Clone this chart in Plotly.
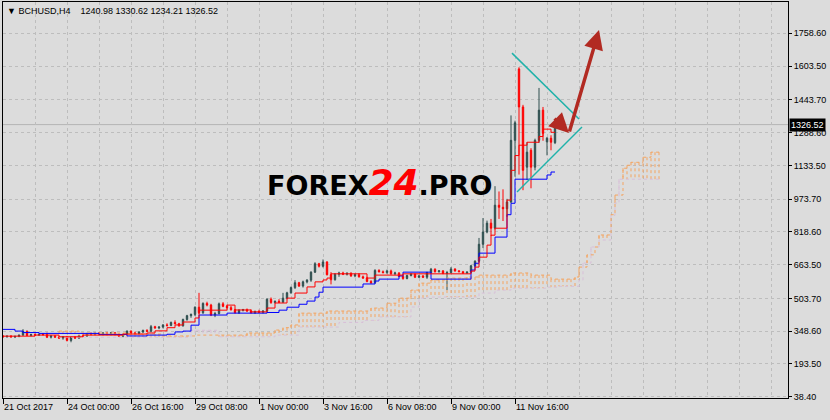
import plotly.graph_objects as go

# BCHUSD H4, bar 0 = 21 Oct 2017 08:00, one bar = 4 hours
opens = [325, 322, 325, 321, 324, 330, 348, 328, 333, 330, 334, 332, 320, 326, 320, 316, 322, 305, 320, 316,
         328, 326, 338, 334, 339, 335, 340, 337, 341, 333, 325, 334, 349, 340, 338, 345, 352, 348, 370, 364,
         368, 378, 376, 390, 384, 374, 404, 422, 428, 462, 436, 480, 472, 425, 432, 478, 466, 460, 450, 436,
         448, 450, 444, 436, 442, 438, 444, 500, 484, 490, 486, 505, 530, 555, 578, 562, 582, 590, 628, 668,
         656, 676, 616, 592, 618, 624, 618, 622, 610, 616, 606, 600, 584, 578, 636, 630, 626, 634, 620, 624,
         608, 598, 612, 618, 604, 610, 604, 626, 642, 630, 634, 622, 626, 643, 634, 630, 624, 628, 658, 680,
         760, 818, 860, 836, 945, 935, 928, 960, 1252, 1590, 1410, 1125, 1205, 1125, 1252, 1395, 1245, 1262, 1240.98]
highs = [330, 328, 330, 327, 332, 358, 352, 336, 338, 336, 340, 342, 330, 330, 325, 324, 326, 322, 326, 330,
         335, 340, 342, 341, 344, 342, 345, 343, 344, 338, 336, 352, 352, 346, 348, 356, 358, 378, 374, 372,
         382, 386, 394, 400, 388, 408, 426, 432, 466, 530, 485, 488, 478, 440, 484, 486, 474, 468, 454, 452,
         454, 456, 452, 446, 450, 448, 504, 508, 494, 500, 530, 535, 560, 590, 582, 588, 595, 632, 675, 672,
         688, 680, 628, 624, 630, 630, 628, 628, 622, 624, 612, 606, 590, 642, 642, 636, 640, 640, 630, 628,
         616, 616, 624, 622, 614, 614, 630, 648, 646, 638, 638, 634, 652, 646, 638, 634, 632, 662, 684, 790,
         884, 872, 880, 1035, 1010, 1020, 975, 1370, 1345, 1598, 1420, 1243, 1215, 1260, 1500, 1410, 1268, 1276, 1330.62]
lows = [318, 318, 320, 316, 320, 326, 325, 324, 326, 326, 328, 316, 314, 318, 312, 308, 300, 296, 312, 312,
        322, 322, 330, 330, 332, 330, 335, 333, 330, 322, 320, 330, 336, 334, 334, 340, 344, 344, 360, 358,
        362, 370, 372, 380, 370, 370, 398, 412, 420, 430, 430, 466, 420, 415, 428, 462, 456, 446, 432, 430,
        442, 440, 432, 430, 434, 432, 436, 478, 480, 482, 482, 500, 526, 548, 558, 555, 575, 582, 624, 650,
        650, 612, 570, 588, 606, 614, 612, 606, 604, 602, 596, 580, 572, 574, 626, 622, 620, 616, 614, 604,
        592, 594, 608, 600, 600, 600, 596, 620, 626, 626, 618, 543, 622, 630, 628, 620, 620, 624, 652, 676,
        742, 812, 800, 830, 880, 870, 890, 955, 1080, 1090, 1016, 1064, 1025, 1110, 1240, 1250, 1181, 1205, 1234.21]
closes = [322, 325, 321, 324, 330, 348, 328, 333, 330, 334, 332, 320, 326, 320, 316, 322, 305, 320, 316, 328,
          326, 338, 334, 339, 335, 340, 337, 341, 333, 325, 334, 349, 340, 338, 345, 352, 348, 370, 364, 368,
          378, 376, 390, 384, 374, 404, 422, 428, 462, 436, 480, 472, 425, 432, 478, 466, 460, 450, 436, 448,
          450, 444, 436, 442, 438, 444, 500, 484, 490, 486, 505, 530, 555, 578, 562, 582, 590, 628, 668, 656,
          676, 616, 592, 618, 624, 618, 622, 610, 616, 606, 600, 584, 578, 636, 630, 626, 634, 620, 624, 608,
          598, 612, 618, 604, 610, 604, 626, 642, 630, 634, 622, 626, 643, 634, 630, 624, 628, 658, 680, 760,
          818, 860, 836, 945, 935, 928, 960, 1252, 1335, 1410, 1110, 1196, 1125, 1252, 1395, 1285, 1262, 1243, 1326.52]

# Ichimoku lines, read as steps: bar where the value changes -> value
tenkan_bar = [0, 8, 14, 20, 30, 36, 38, 41, 43, 45, 48, 49, 56, 58, 62, 66, 68, 71, 73, 76, 78, 80, 81, 82,
              91, 93, 100, 117, 118, 119, 121, 122, 123, 126, 127, 128, 129, 131, 134, 135, 137, 138]
tenkan_val = [325, 330, 322, 330, 335, 340, 350, 365, 378, 392, 411, 448, 472, 449, 440, 458, 482, 505, 529, 558,
              582, 591, 600, 620, 600, 614, 620, 633, 652, 699, 756, 803, 836, 969, 1110, 1180, 1229, 1243, 1270,
              1305, 1290, 1290]
kijun_bar = [0, 3, 5, 9, 24, 31, 36, 41, 43, 45, 47, 49, 56, 66, 69, 71, 74, 76, 78, 79, 80, 90, 93, 94, 99,
             100, 107, 117, 118, 119, 123, 126, 127, 128, 136, 137, 138]
kijun_val = [357, 349, 342, 338, 333, 326, 330, 334, 345, 349, 377, 425, 434, 437, 448, 462, 476, 491, 510, 533,
             557, 572, 586, 595, 610, 628, 595, 638, 670, 718, 794, 900, 954, 1068, 1088, 1102, 1102]
span_a_bar = [14, 19, 31, 40, 48, 61, 68, 70, 72, 74, 81, 92, 96, 99, 102, 104, 107, 111, 116, 119, 127, 132,
              137, 143, 144, 146, 148, 149, 152, 153, 155, 156, 157, 160, 162, 164]
span_a_val = [349, 340, 335, 326, 330, 340, 354, 365, 378, 434, 444, 458, 481, 505, 543, 576, 591, 600, 605, 614,
              624, 614, 595, 605, 652, 710, 747, 804, 900, 993, 1120, 1134, 1148, 1172, 1196, 1196]
span_b_bar = [14, 47, 54, 68, 74, 84, 90, 94, 102, 104, 106, 119, 123, 127, 136, 139, 144, 145, 147, 149, 152,
              153, 154, 164]
span_b_val = [320, 353, 322, 330, 368, 390, 400, 416, 463, 505, 510, 529, 543, 552, 557, 561, 590, 671, 747, 780,
              897, 955, 1068, 1068]

# x axis labels (every 16 bars) and price axis labels
tick_bars = [0, 16, 32, 48, 64, 80, 96, 112, 128]
tick_text = ["21 Oct 2017", "24 Oct 00:00", "26 Oct 16:00", "29 Oct 08:00", "1 Nov 00:00",
             "3 Nov 16:00", "6 Nov 08:00", "9 Nov 00:00", "11 Nov 16:00"]
price_ticks = [38.40, 193.50, 348.60, 503.70, 663.50, 818.60, 973.70, 1133.50, 1288.60, 1443.70, 1603.50, 1758.60]

# hand drawn objects on the chart: triangle lines and arrows (bar, price)
tri_upper = [(127.25, 1665), (144.0, 1353)]
tri_lower = [(128.5, 1007), (144.75, 1315)]
arrow_small = [(137.5, 1362), (141.5, 1287)]
arrow_big = [(141.5, 1287), (149.0, 1774)]

BG = "#DCDCDC"
GRID = "#BDBDBD"
BULL = "#2F4F4F"
BEAR = "#FF0000"
FONT = "Liberation Sans"


def steps(bx, by, start, end):
    # expand step breakpoints into one value per bar
    out = []
    j = 0
    for i in range(start, end + 1):
        while j + 1 < len(bx) and bx[j + 1] <= i:
            j += 1
        out.append(by[j])
    return out


bars = list(range(len(closes)))
c0, c1 = span_a_bar[0], span_a_bar[-1]
a_full = steps(span_a_bar, span_a_val, c0, c1)
b_full = steps(span_b_bar, span_b_val, c0, c1)

# cloud hatching: vertical dotted strokes between span A and span B
up_x, up_y, dn_x, dn_y = [], [], [], []
for k, i in enumerate(range(c0, c1 + 1)):
    a, b = a_full[k], b_full[k]
    if a >= b:
        up_x += [i, i, None]
        up_y += [a, b, None]
    else:
        dn_x += [i, i, None]
        dn_y += [b, a, None]

fig = go.Figure()

fig.add_trace(go.Scatter(x=up_x, y=up_y, mode="lines", line=dict(color="#F4A460", width=1, dash="dot"),
                         hoverinfo="skip"))
fig.add_trace(go.Scatter(x=dn_x, y=dn_y, mode="lines", line=dict(color="#D8BFD8", width=1, dash="dot"),
                         hoverinfo="skip"))
fig.add_trace(go.Scatter(x=span_b_bar, y=span_b_val, mode="lines",
                         line=dict(color="#D8BFD8", width=1, dash="dot", shape="hv")))
fig.add_trace(go.Scatter(x=span_a_bar, y=span_a_val, mode="lines",
                         line=dict(color="#F4A460", width=1, dash="dot", shape="hv")))

fig.add_trace(go.Candlestick(
    x=bars, open=opens, high=highs, low=lows, close=closes,
    increasing=dict(line=dict(color=BULL, width=1), fillcolor=BULL),
    decreasing=dict(line=dict(color=BEAR, width=1), fillcolor=BEAR),
    whiskerwidth=0,
))

fig.add_trace(go.Scatter(x=kijun_bar, y=kijun_val, mode="lines", line=dict(color="#0000FF", width=1, shape="hv")))
fig.add_trace(go.Scatter(x=tenkan_bar, y=tenkan_val, mode="lines", line=dict(color="#FF0000", width=1, shape="hv")))

# current price line
fig.add_shape(type="line", xref="paper", x0=0, x1=1, yref="y", y0=closes[-1], y1=closes[-1],
              line=dict(color="#B4B4B4", width=1), layer="between")

for seg in (tri_upper, tri_lower):
    fig.add_shape(type="line", xref="x", yref="y", x0=seg[0][0], y0=seg[0][1], x1=seg[1][0], y1=seg[1][1],
                  line=dict(color="#20B2AA", width=1.5))

for seg, w, s in ((arrow_small, 3, 1.3), (arrow_big, 3.5, 1.1)):
    fig.add_annotation(x=seg[1][0], y=seg[1][1], ax=seg[0][0], ay=seg[0][1], xref="x", yref="y",
                       axref="x", ayref="y", text="", showarrow=True, arrowhead=2, arrowsize=s,
                       arrowwidth=w, arrowcolor="#B22A22", standoff=0)

# watermark
fig.add_annotation(xref="paper", yref="paper", x=0.479, y=0.543, showarrow=False,
                   text="<b>FOREX<span style='color:#FF0000;font-size:36px'><i>24</i></span>.PRO</b>",
                   font=dict(family="DejaVu Sans", size=27, color="#000000"))

# symbol header
fig.add_annotation(xref="paper", yref="paper", x=0, y=1, xanchor="left", yanchor="top", xshift=2, yshift=-2,
                   showarrow=False,
                   text="▼ BCHUSD,H4\u00a0\u00a0\u00a0\u00a01240.98 1330.62 1234.21 1326.52",
                   font=dict(family=FONT, size=9, color="#000000"))

# last price tag on the price scale
fig.add_annotation(xref="paper", yref="y", x=1, y=closes[-1], xanchor="left", xshift=1, showarrow=False,
                   text=f"{closes[-1]:.2f}", bgcolor="#000000", borderpad=1,
                   font=dict(family=FONT, size=9, color="#FFFFFF"))

fig.update_layout(
    width=830, height=420,
    margin=dict(l=3, r=42, t=2, b=22),
    paper_bgcolor=BG, plot_bgcolor=BG,
    showlegend=False,
    boxgap=0.5,
    font=dict(family=FONT, size=9, color="#000000"),
)
fig.update_xaxes(
    range=[0, 196.25], rangeslider_visible=False,
    tickmode="array", tickvals=tick_bars, ticktext=tick_text,
    ticks="outside", ticklen=5, tickcolor="#000000", ticklabelposition="outside right",
    showgrid=True, gridcolor=GRID, griddash="3px,3px", gridwidth=1,
    minor=dict(tickvals=list(range(0, 197, 8)), showgrid=True, gridcolor=GRID, griddash="3px,3px", ticks=""),
    showline=True, linecolor="#000000", linewidth=1, mirror=True, zeroline=False,
)
fig.update_yaxes(
    range=[32.2, 1906.9], side="right",
    tickmode="array", tickvals=price_ticks, ticktext=[f"{v:.2f}" for v in price_ticks],
    ticks="outside", ticklen=3, tickcolor="#000000", ticklabelstandoff=0,
    showgrid=True, gridcolor=GRID, griddash="3px,3px", gridwidth=1,
    showline=True, linecolor="#000000", linewidth=1, mirror=True, zeroline=False,
)

# page body margin would shift the 830x420 figure, so drop it
fig.write_html("out.html", config={"displayModeBar": False},
               post_script="document.body.style.margin='0';document.body.style.background='#DCDCDC';")
